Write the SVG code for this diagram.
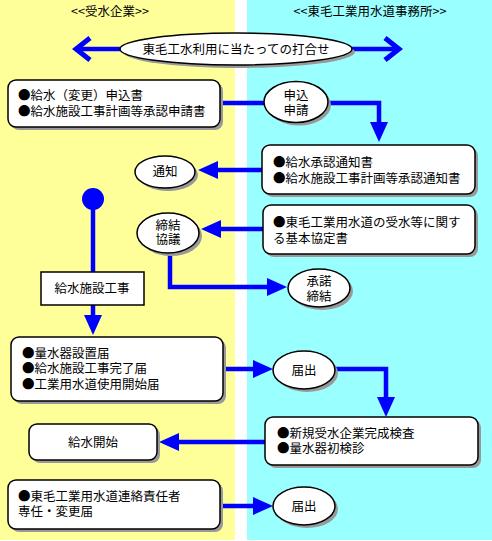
<svg xmlns="http://www.w3.org/2000/svg" width="492" height="541" viewBox="0 0 492 541">
<defs>
<style>
text{font-family:"Noto Sans CJK JP","Noto Sans CJK SC",sans-serif;font-size:12.5px;fill:#000}
.c{text-anchor:middle}
.box{fill:#fff;stroke:#000;stroke-width:1.5}
.sh{fill:#999}
.ln{fill:none;stroke:#0000ff;stroke-width:4.5}
</style>
<marker id="ah" markerUnits="userSpaceOnUse" viewBox="0 0 20 18" markerWidth="20" markerHeight="18" refX="10" refY="9" orient="auto">
<path d="M0,0 L20,9 L0,18 z" fill="#0000ff"/>
</marker>
<marker id="chev" markerUnits="userSpaceOnUse" viewBox="-20 -15 24 30" markerWidth="24" markerHeight="30" refX="0" refY="0" orient="auto-start-reverse">
<path d="M-14,-11 L0,0 L-14,11" fill="none" stroke="#0000ff" stroke-width="5"/>
</marker>
</defs>
<rect x="0" y="0" width="235" height="540" fill="#ffff99"/>
<rect x="247" y="0" width="245" height="540" fill="#99ffff"/>
<text class="c" x="110" y="15.5">&lt;&lt;受水企業&gt;&gt;</text>
<text class="c" x="370" y="15.5">&lt;&lt;東毛工業用水道事務所&gt;&gt;</text>

<g id="connectors">
<path class="ln" d="M76,49 H399" marker-start="url(#chev)" marker-end="url(#chev)"/>
<path class="ln" d="M220,103 H265"/>
<path class="ln" d="M327,103 H379 V132" marker-end="url(#ah)"/>
<path class="ln" d="M262,170 H208" marker-end="url(#ah)"/>
<path class="ln" d="M93,199 V272"/>
<path class="ln" d="M263,229 H211" marker-end="url(#ah)"/>
<path class="ln" d="M170,252 V287 H277" marker-end="url(#ah)"/>
<path class="ln" d="M93,305 V325" marker-end="url(#ah)"/>
<path class="ln" d="M223,369 H263" marker-end="url(#ah)"/>
<path class="ln" d="M335,369 H386 V407" marker-end="url(#ah)"/>
<path class="ln" d="M265,442 H169" marker-end="url(#ah)"/>
<path class="ln" d="M220,506 H263" marker-end="url(#ah)"/>
</g>

<g id="n-meeting">
<ellipse class="sh" cx="239" cy="52" rx="116" ry="16"/>
<ellipse class="box" cx="236" cy="49" rx="116" ry="16"/>
<text class="c" x="236" y="53.5">東毛工水利用に当たっての打合せ</text>
</g>

<g id="n-apply-docs">
<rect class="sh" x="11" y="83" width="212" height="47" rx="8"/>
<rect class="box" x="8" y="80" width="212" height="47" rx="8"/>
<text x="18" y="100">●給水（変更）申込書<tspan x="18" dy="16">●給水施設工事計画等承認申請書</tspan></text>
</g>

<g id="n-apply">
<ellipse class="sh" cx="299" cy="105" rx="32" ry="20.5"/>
<ellipse class="box" cx="296" cy="102" rx="32" ry="20.5"/>
<text class="c" x="296" y="99.5">申込<tspan x="296" dy="15">申請</tspan></text>
</g>

<g id="n-approval-docs">
<rect class="sh" x="265" y="148" width="213" height="49" rx="8"/>
<rect class="box" x="262" y="145" width="213" height="49" rx="8"/>
<text x="273" y="166.5">●給水承認通知書<tspan x="273" dy="16">●給水施設工事計画等承認通知書</tspan></text>
</g>

<g id="n-notice">
<ellipse class="sh" cx="168" cy="175" rx="30" ry="16"/>
<ellipse class="box" cx="165" cy="172" rx="30" ry="16"/>
<text class="c" x="165" y="176">通知</text>
</g>

<g id="n-start-dot">
<circle cx="93" cy="199" r="11" fill="#0000ff"/>
</g>

<g id="n-agreement-doc">
<rect class="sh" x="266" y="208" width="212" height="49" rx="8"/>
<rect class="box" x="263" y="205" width="212" height="49" rx="8"/>
<text x="273" y="226.5">●東毛工業用水道の受水等に関す<tspan x="273" dy="16">る基本協定書</tspan></text>
</g>

<g id="n-negotiate">
<ellipse class="sh" cx="171" cy="236" rx="31" ry="20"/>
<ellipse class="box" cx="168" cy="233" rx="31" ry="20"/>
<text class="c" x="168" y="229.5">締結<tspan x="168" dy="14">協議</tspan></text>
</g>

<g id="n-accept">
<ellipse class="sh" cx="322" cy="291" rx="31" ry="19"/>
<ellipse class="box" cx="319" cy="288" rx="31" ry="19"/>
<text class="c" x="319" y="285.5">承諾<tspan x="319" dy="15">締結</tspan></text>
</g>

<g id="n-construction">
<rect class="box" x="41" y="272" width="103" height="33"/>
<text class="c" x="92" y="292.5">給水施設工事</text>
</g>

<g id="n-report-docs">
<rect class="sh" x="14" y="340" width="212" height="64" rx="8"/>
<rect class="box" x="11" y="337" width="212" height="64" rx="8"/>
<text x="22" y="357.5">●量水器設置届<tspan x="22" dy="15.5">●給水施設工事完了届</tspan><tspan x="22" dy="16">●工業用水道使用開始届</tspan></text>
</g>

<g id="n-report1">
<ellipse class="sh" cx="307" cy="373" rx="31" ry="19"/>
<ellipse class="box" cx="304" cy="370" rx="31" ry="19"/>
<text class="c" x="304" y="374.5">届出</text>
</g>

<g id="n-inspection">
<rect class="sh" x="268" y="420" width="213" height="48" rx="8"/>
<rect class="box" x="265" y="417" width="213" height="48" rx="8"/>
<text x="277" y="437.5">●新規受水企業完成検査<tspan x="277" dy="15.5">●量水器初検診</tspan></text>
</g>

<g id="n-supply-start">
<rect class="sh" x="32" y="427" width="128" height="36" rx="8"/>
<rect class="box" x="29" y="424" width="128" height="36" rx="8"/>
<text class="c" x="93" y="446.5">給水開始</text>
</g>

<g id="n-contact-docs">
<rect class="sh" x="11" y="483" width="212" height="49" rx="8"/>
<rect class="box" x="8" y="480" width="212" height="49" rx="8"/>
<text x="18" y="500.5">●東毛工業用水道連絡責任者<tspan x="18" dy="15">専任・変更届</tspan></text>
</g>

<g id="n-report2">
<ellipse class="sh" cx="307" cy="509" rx="31" ry="19"/>
<ellipse class="box" cx="304" cy="506" rx="31" ry="19"/>
<text class="c" x="304" y="510.5">届出</text>
</g>
</svg>
